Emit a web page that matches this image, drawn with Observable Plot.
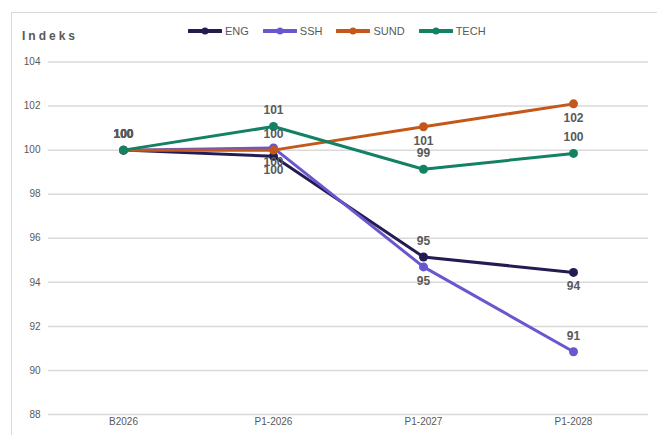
<!DOCTYPE html>
<html>
<head>
<meta charset="utf-8">
<script src="https://cdn.jsdelivr.net/npm/d3@7"></script>
<script src="https://cdn.jsdelivr.net/npm/@observablehq/plot@0.6"></script>
<style>
  html, body { margin: 0; padding: 0; background: #fff; }
  #wrap { position: relative; width: 657px; height: 435px; overflow: hidden; }
  #frame { position: absolute; left: 11px; top: 12px; width: 700px; height: 500px; border: 1.5px solid #d9d9d9; box-sizing: border-box; }
  #header { position: relative; height: 50px; }
  #title { position: absolute; left: 22px; top: 29px; font: bold 12px "Liberation Sans", Arial, sans-serif; letter-spacing: 3px; color: #595959; }
  #legend { position: absolute; left: 188px; top: 25px; display: flex; gap: 14px; font: 11px "Liberation Sans Narrow", "Arial Narrow", "Liberation Sans", sans-serif; color: #595959; }
  .item { display: flex; align-items: center; gap: 3px; }
  #chart { position: relative; }
</style>
</head>
<body>
<div id="wrap">
  <div id="frame"></div>
  <div id="header">
    <div id="title">Indeks</div>
    <div id="legend"></div>
  </div>
  <div id="chart"></div>
</div>
<script>
const categories = ["B2026", "P1-2026", "P1-2027", "P1-2028"];
const seriesNames = ["ENG", "SSH", "SUND", "TECH"];
const engValues  = [100, 99.72, 95.15, 94.45];
const sshValues  = [100, 100.1, 94.7, 90.85];
const sundValues = [100, 100.0, 101.06, 102.1];
const techValues = [100, 101.07, 99.13, 99.85];
const engLabelPos  = ["above", "below", "above", "below"];
const sshLabelPos  = ["above", "below", "below", "above"];
const sundLabelPos = ["above", "above", "below", "below"];
const techLabelPos = ["above", "above", "above", "above"];
const yTicks = [88, 90, 92, 94, 96, 98, 100, 102, 104];
const seriesColors = ["#221c52", "#6957cf", "#c4581a", "#138163"];

const valuesBySeries = [engValues, sshValues, sundValues, techValues];
const posBySeries = [engLabelPos, sshLabelPos, sundLabelPos, techLabelPos];
const rows = [];
seriesNames.forEach((s, i) => {
  categories.forEach((c, j) => {
    rows.push({series: s, cat: c, value: valuesBySeries[i][j], pos: posBySeries[i][j]});
  });
});

// legend
const legend = document.getElementById("legend");
seriesNames.forEach((s, i) => {
  const item = document.createElement("div");
  item.className = "item";
  item.innerHTML = `<svg width="34" height="8"><line x1="1" x2="33" y1="4" y2="4" stroke="${seriesColors[i]}" stroke-width="4" stroke-linecap="round"/><circle cx="17" cy="4" r="3.5" fill="${seriesColors[i]}"/></svg><span>${s}</span>`;
  legend.appendChild(item);
});

const color = {domain: seriesNames, range: seriesColors};
const labelFont = '"Liberation Sans", Arial, sans-serif';

const marks = [
  Plot.gridY(yTicks, {stroke: "#d9d9d9", strokeOpacity: 1, strokeWidth: 1.5}),
  Plot.axisY(yTicks, {tickSize: 0, tickPadding: 8, fontSize: 10, fill: "#595959", label: null}),
  Plot.axisX({tickSize: 0, tickPadding: 3, fontSize: 10, fill: "#595959", label: null}),
];
seriesNames.forEach((s) => {
  const d = rows.filter(r => r.series === s);
  marks.push(Plot.line(d, {x: "cat", y: "value", stroke: "series", strokeWidth: 3}));
  marks.push(Plot.dot(d, {x: "cat", y: "value", fill: "series", r: 4.5}));
});
marks.push(Plot.text(rows.filter(r => r.pos === "above"), {
  x: "cat", y: "value", text: d => String(Math.round(d.value)), dy: -16,
  fill: "#595959", fontWeight: "bold", fontSize: 12, fontFamily: labelFont
}));
marks.push(Plot.text(rows.filter(r => r.pos === "below"), {
  x: "cat", y: "value", text: d => String(Math.round(d.value)), dy: 14,
  fill: "#595959", fontWeight: "bold", fontSize: 12, fontFamily: labelFont
}));

const chart = Plot.plot({
  width: 657,
  height: 385,
  marginLeft: 48,
  marginRight: 9,
  marginTop: 11.5,
  marginBottom: 21,
  style: {fontFamily: '"Liberation Sans Narrow", "Arial Narrow", "Liberation Sans", sans-serif', background: "transparent", overflow: "visible"},
  x: {type: "point", domain: categories, padding: 0.5},
  y: {domain: [88, 104]},
  color,
  marks
});
document.getElementById("chart").appendChild(chart);
</script>
</body>
</html>
